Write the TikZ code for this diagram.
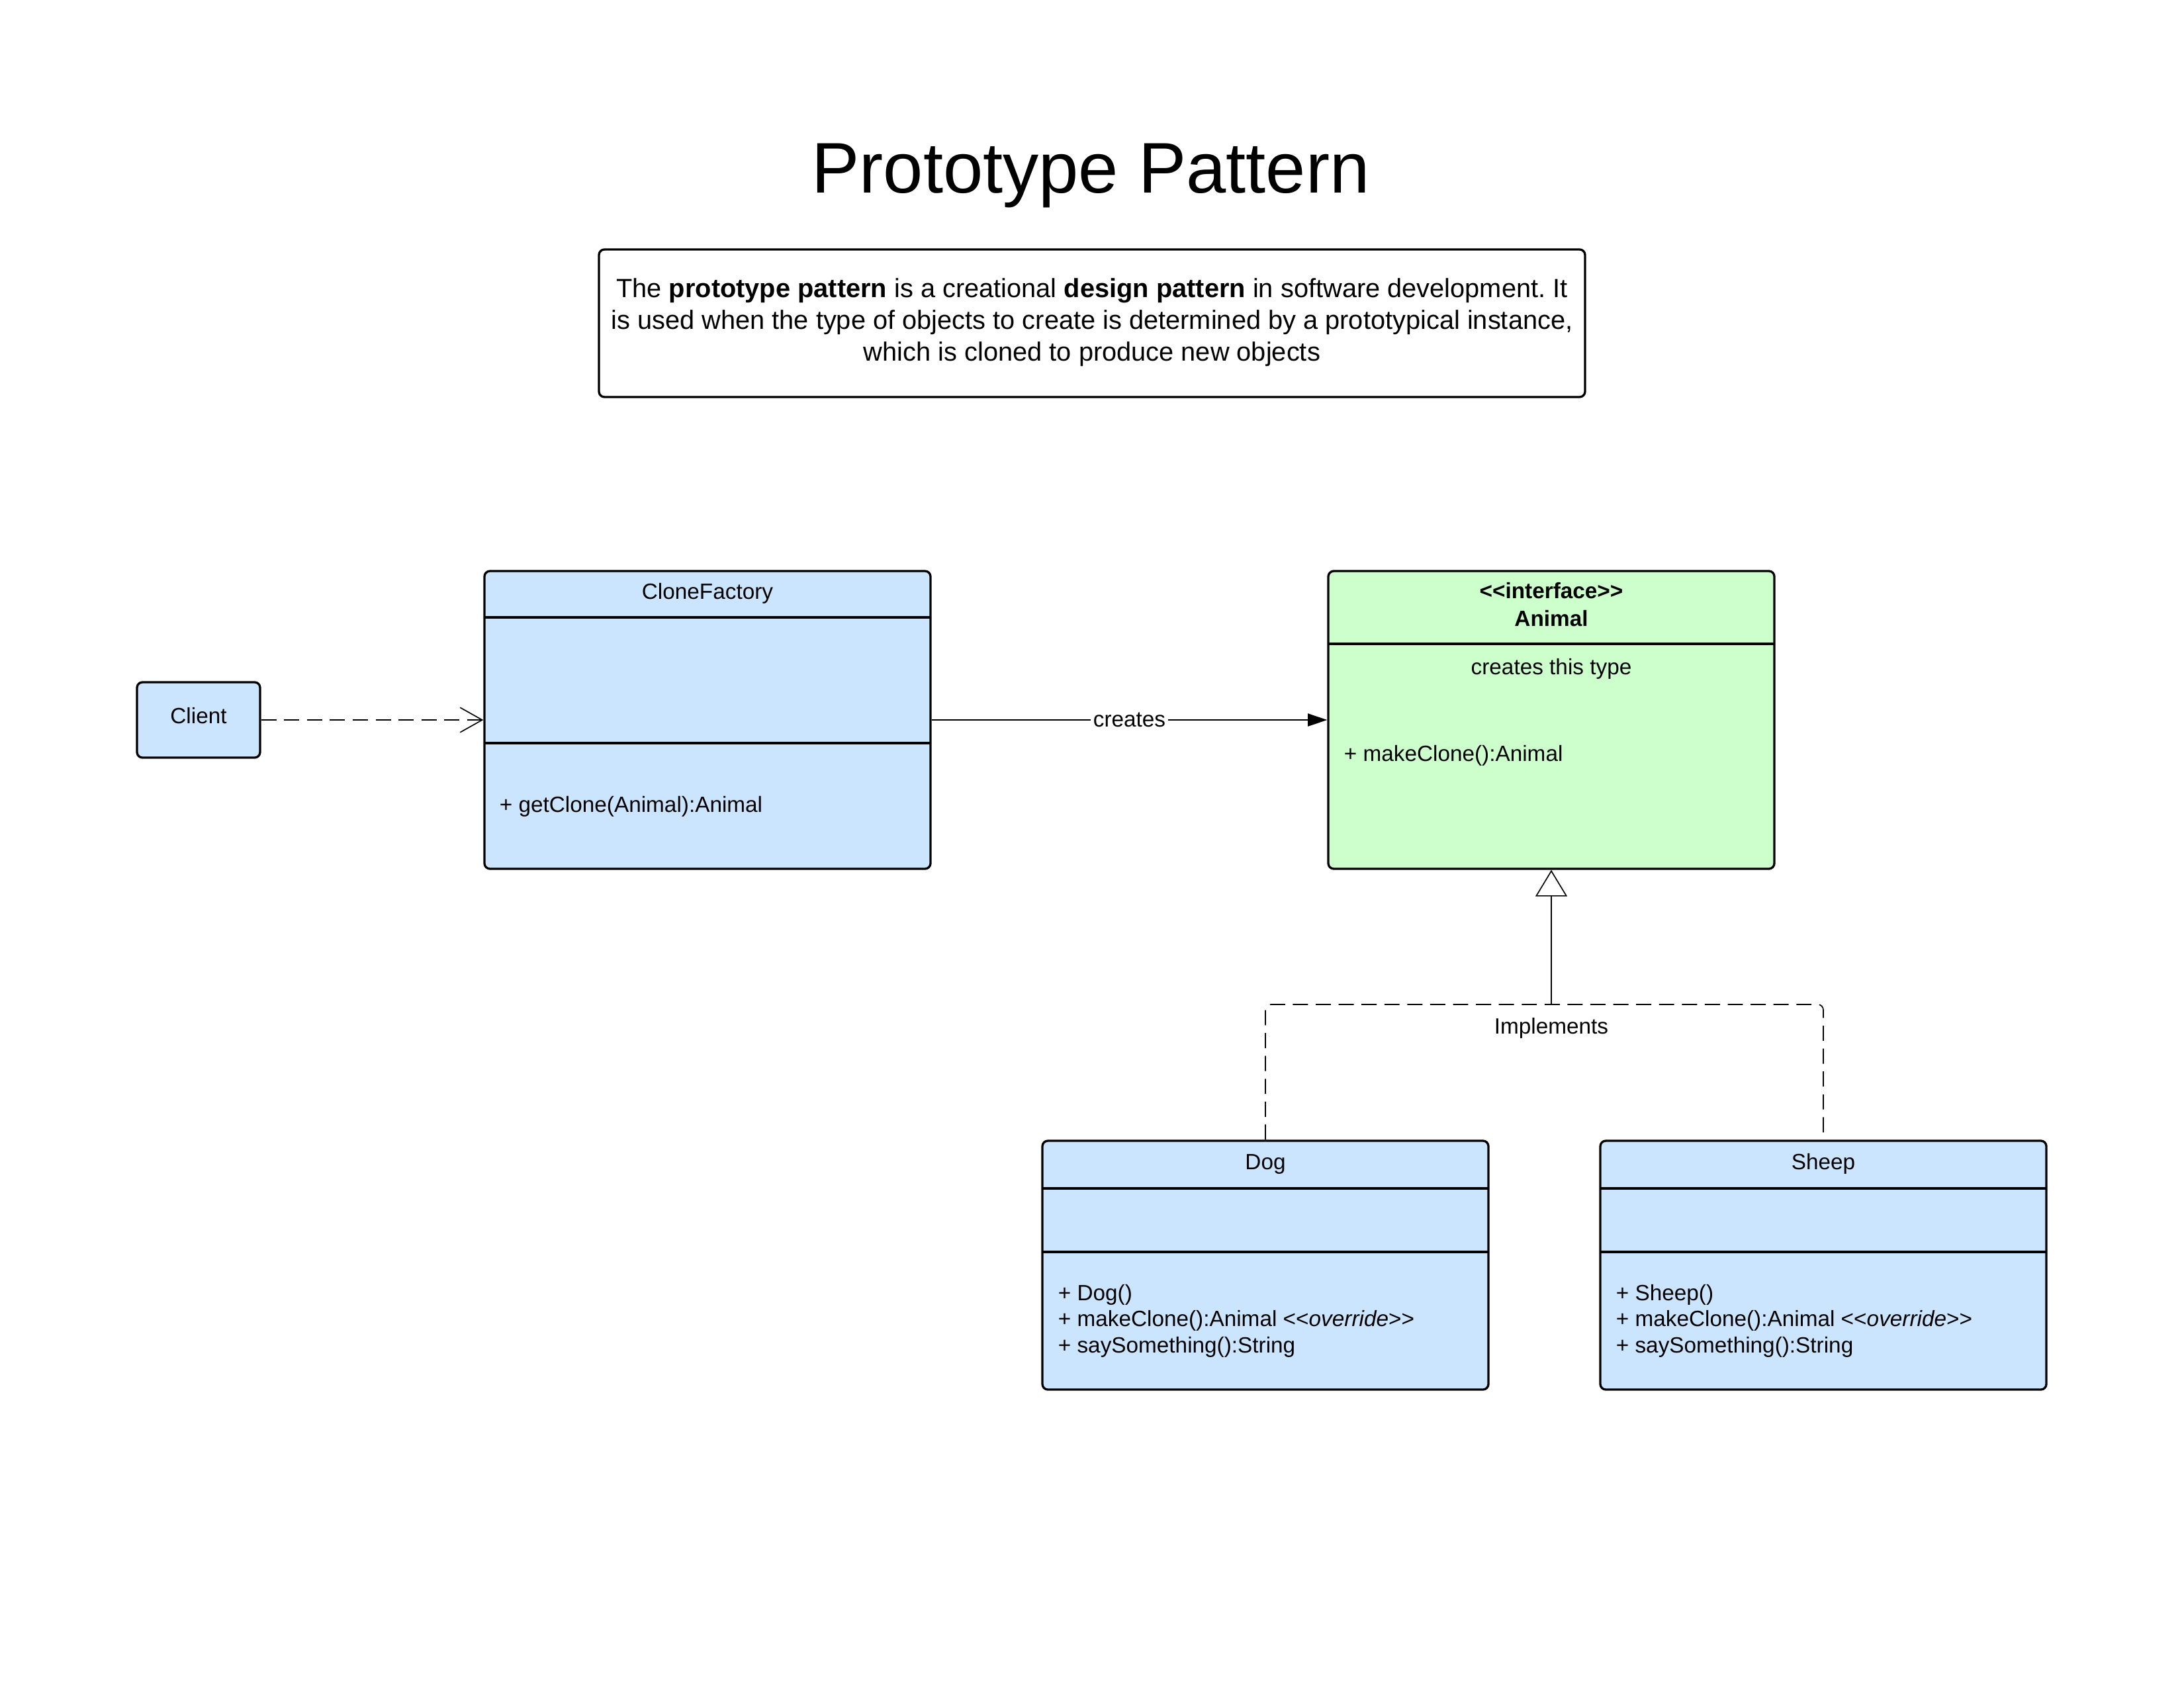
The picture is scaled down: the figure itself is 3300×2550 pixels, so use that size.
\documentclass[tikz,border=0pt]{standalone}
\usepackage{fontspec}
\setmainfont{Liberation Sans}[Ligatures=TeXOff]
\usetikzlibrary{arrows.meta,fit}
\definecolor{umlblue}{RGB}{204,229,255}
\definecolor{umlgreen}{RGB}{204,255,204}
\tikzset{
    classbox/.style={
        draw=black,line width=0.8pt,rounded corners=2pt,fill=#1,inner sep=0pt
    },
    classbox/.default=umlblue,
    divider/.style={line width=0.8pt},
    member/.style={font=\fontsize{8}{9.4}\selectfont,inner sep=0pt},
    arrow/.style={
        -{Triangle[length=7pt,width=4.6pt]},line width=0.4pt
    },
    usage/.style={
        -{Straight Barb[length=8pt,width=9pt]},line width=0.4pt,
        dash pattern=on 5.5pt off 2.8pt
    },
    realize/.style={
        line width=0.4pt,dash pattern=on 5.5pt off 2.8pt,rounded corners=2pt
    }
}
\begin{document}
\begin{tikzpicture}[x=0.24pt,y=-0.24pt]
\useasboundingbox (0,0) rectangle (3300,2550);

\node[anchor=base,font=\fontsize{26}{30}\selectfont] (title) at (1648,291) {Prototype Pattern};

\node[draw,line width=0.8pt,rounded corners=2pt,inner sep=0pt,fit={(905,377) (2395,600)}] (desc) {};
\node[
align=center,anchor=base,inner sep=0pt,
font=\fontsize{9.55}{11.5}\selectfont\frenchspacing
]
(desctext) at (1650,545)
{
The \textbf{prototype pattern} is a creational \textbf{design pattern} in software development. It\\
is used when the type of objects to create is determined by a prototypical instance,\\
which is cloned to produce new objects
};

\node[classbox,fit={(207,1031) (393,1145)}] (client) {};
\node[member,anchor=base] (clientname) at (300,1093) {Client};

\node[classbox,fit={(732,863) (1406,1313)}] (factory) {};
\draw[divider] (732,933) -- (1406,933);
\draw[divider] (732,1123) -- (1406,1123);
\node[member,anchor=base] (factoryname) at (1069,905) {CloneFactory};
\node[member,anchor=base west] (factoryops) at (754,1227) {+ getClone(Animal):Animal};

\node[classbox=umlgreen,fit={(2007,863) (2681,1313)}] (animal) {};
\draw[divider] (2007,973) -- (2681,973);
\node[member,anchor=base,font=\fontsize{8}{9.4}\selectfont\bfseries] (animaltype) at (2344,904) {<<interface>>};
\node[member,anchor=base,font=\fontsize{8}{9.4}\selectfont\bfseries] (animalname) at (2344,946) {Animal};
\node[member,anchor=base] (animalnote) at (2344,1019) {creates this type};
\node[member,anchor=base west] (animalops) at (2030,1150) {+ makeClone():Animal};

\node[classbox,fit={(1575,1724) (2249,2100)}] (dog) {};
\draw[divider] (1575,1796) -- (2249,1796);
\draw[divider] (1575,1892) -- (2249,1892);
\node[member,anchor=base] (dogname) at (1912,1767) {Dog};
\node[member,anchor=base west,align=left] (dogops) at (1598,2044)
{+ Dog()\\+ makeClone():Animal <<\textit{override}>>\\+ saySomething():String};

\node[classbox,fit={(2418,1724) (3092,2100)}] (sheep) {};
\draw[divider] (2418,1796) -- (3092,1796);
\draw[divider] (2418,1892) -- (3092,1892);
\node[member,anchor=base] (sheepname) at (2755,1767) {Sheep};
\node[member,anchor=base west,align=left] (sheepops) at (2441,2044)
{+ Sheep()\\+ makeClone():Animal <<\textit{override}>>\\+ saySomething():String};

\draw[usage](client)--(factory);
\draw[arrow](factory)--node[member,fill=white,inner sep=1pt]{creates}(animal);

\coordinate (fork) at (2344,1518);
\draw[-{Triangle[open,length=9.6pt,width=11.5pt]},line width=0.4pt](fork)--(animal);
\draw[realize](dog.north)|-(fork)-|(sheep.north);
\node[member,anchor=base] (implements) at (2344,1562) {Implements};

\end{tikzpicture}
\end{document}
